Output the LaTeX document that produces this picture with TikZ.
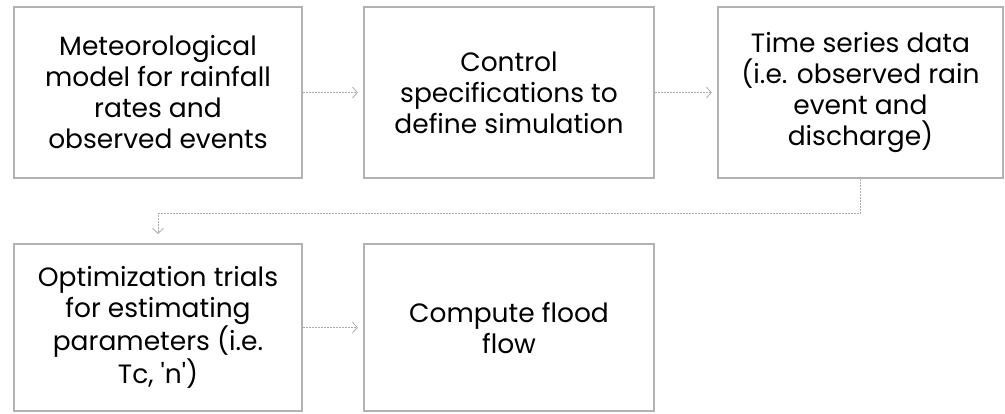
\documentclass[tikz,border=0pt]{standalone}
\usepackage{fontspec}
\setmainfont{Poppins}[Ligatures=TeXOff]
\usetikzlibrary{arrows.meta}
\begin{document}
\begin{tikzpicture}[x=1pt,y=-1pt,
  box/.style={draw=gray!60, line width=2.2pt, rectangle, align=center,
    font=\fontsize{26.5}{31}\selectfont, text=black, inner sep=0pt},
  conn/.style={draw=gray!65, line width=0.8pt, dash pattern=on 2pt off 1pt,
    -{Straight Barb[length=5pt,width=11pt,line width=0.8pt]}, shorten >=5pt}
]
\useasboundingbox (0,0) rectangle (1005,414);
\node[box, minimum width=288pt, minimum height=171pt] (b1) at (158,92.5)
  {Meteorological\\model for rainfall\\rates and\\observed events};
\node[box, minimum width=290pt, minimum height=171pt] (b2) at (509,92.5)
  {Control\\specifications to\\define simulation};
\node[box, minimum width=285pt, minimum height=171pt] (b3) at (860.5,92.5)
  {Time series data\\(i.e. observed rain\\event and\\discharge)};
\node[box, minimum width=288pt, minimum height=167pt] (b4) at (158,327.5)
  {Optimization trials\\for estimating\\parameters (i.e.\\Tc, 'n')};
\node[box, minimum width=290pt, minimum height=167pt] (b5) at (509,327.5)
  {Compute flood\\flow};
\draw[conn] (b1.east) -- (b2.west);
\draw[conn] (b2.east) -- (b3.west);
\draw[conn, shorten >=9pt] (b3.south) -- ++(0,34) -| (b4.north);
\draw[conn] (b4.east) -- (b5.west);
\end{tikzpicture}
\end{document}
